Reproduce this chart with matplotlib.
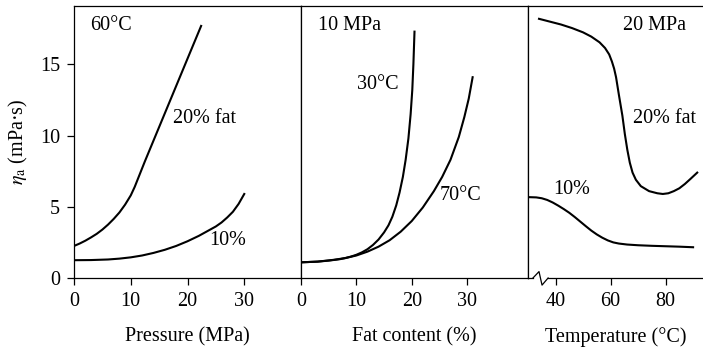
import matplotlib
matplotlib.use("Agg")
import matplotlib.pyplot as plt

plt.rcParams['font.family'] = ['Liberation Serif', 'DejaVu Serif']
plt.rcParams['mathtext.fontset'] = 'stix'

# Panel 1: viscosity vs pressure at 60 °C
p_fat20 = [0, 1, 2, 3, 4, 5, 6, 7, 8, 9, 10, 10.7, 11.5, 12.5, 15, 17.5, 20, 22.4]
v_fat20 = [2.25, 2.42, 2.62, 2.85, 3.1, 3.4, 3.75, 4.15, 4.6, 5.15, 5.8, 6.4, 7.2, 8.2, 10.6, 13.0, 15.4, 17.7]
p_fat10 = [0, 3, 6, 8, 10, 12, 14, 16, 18, 20, 22, 24, 25, 26, 27, 28, 29, 30]
v_fat10 = [1.25, 1.26, 1.3, 1.36, 1.45, 1.58, 1.76, 1.98, 2.25, 2.58, 2.96, 3.4, 3.62, 3.9, 4.25, 4.65, 5.2, 5.9]

# Panel 2: viscosity vs fat content at 10 MPa
f_30 = [0, 3, 5, 7, 8, 9, 10, 11, 12, 13, 14, 15, 15.8, 16.5, 17.2, 17.8, 18.4, 18.9, 19.4, 19.8, 20.1, 20.3, 20.5]
v_30 = [1.1, 1.15, 1.22, 1.32, 1.4, 1.5, 1.63, 1.8, 2.02, 2.32, 2.7, 3.2, 3.7, 4.3, 5.1, 6.0, 7.1, 8.3, 9.8, 11.5, 13.2, 15.0, 17.3]
f_70 = [0, 3, 6, 8, 10, 12, 14, 16, 18, 20, 22, 24, 25.5, 27, 28.5, 29.5, 30.3, 31]
v_70 = [1.1, 1.15, 1.28, 1.4, 1.58, 1.85, 2.2, 2.65, 3.25, 4.0, 4.95, 6.1, 7.1, 8.3, 9.9, 11.3, 12.6, 14.1]

# Panel 3: viscosity vs temperature at 20 MPa
t_fat20 = [34, 38, 42, 46, 50, 53, 56, 58, 59.5, 60.5, 61.3, 62, 63, 64.3, 65.2, 66.1, 67, 68, 69.2, 71, 74, 77, 79, 81, 83, 85, 87, 89, 91.5]
v_t20 = [18.2, 18.0, 17.8, 17.55, 17.25, 16.95, 16.55, 16.15, 15.7, 15.2, 14.7, 14.1, 12.9, 11.4, 10.1, 9.0, 8.1, 7.4, 6.9, 6.45, 6.1, 5.95, 5.9, 5.95, 6.1, 6.3, 6.6, 6.95, 7.4]
t_fat10 = [30, 33, 35, 37, 39, 41, 43, 45, 47, 49, 51, 53, 55, 57, 59, 61, 63, 66, 70, 75, 80, 85, 90]
v_t10 = [5.68, 5.66, 5.6, 5.48, 5.3, 5.08, 4.84, 4.58, 4.28, 3.96, 3.64, 3.33, 3.06, 2.83, 2.64, 2.5, 2.42, 2.35, 2.3, 2.26, 2.23, 2.2, 2.16]

ticks_p = [0, 10, 20, 30]
ticks_f = [0, 10, 20, 30]
ticks_t = [40, 60, 80]
ticks_y = [0, 5, 10, 15]

FS = 14.5
LW = 1.5
W, H = 703, 347
fig = plt.figure(figsize=(W / 100, H / 100), dpi=100)

bottom = (H - 278) / H
height = (278 - 6) / H
ax1 = fig.add_axes([74 / W, bottom, 227 / W, height])
ax2 = fig.add_axes([301 / W, bottom, 227 / W, height])
ax3 = fig.add_axes([528 / W, bottom, 175 / W, height])

ymax = 19.1
for ax in (ax1, ax2, ax3):
    ax.set_ylim(0, ymax)
    for s in ax.spines.values():
        s.set_linewidth(0.9)
    ax.tick_params(direction='out', length=5, width=0.9, labelsize=FS, pad=5)

ax1.set_xlim(0, 40)
ax2.set_xlim(0, 41)
ax3.set_xlim(30, 93.6)

ax1.plot(p_fat20, v_fat20, color='black', lw=LW)
ax1.plot(p_fat10, v_fat10, color='black', lw=LW)
ax1.set_xticks(ticks_p)
ax1.set_yticks(ticks_y)
ax1.set_xlabel('Pressure (MPa)', fontsize=FS, labelpad=12)
ax1.set_ylabel(r'$\eta_{\mathrm{a}}$ (mPa·s)', fontsize=FS, labelpad=7)
ax1.text(2.8, 17.7, '60°C', fontsize=FS, va='center', ha='left')
ax1.text(17.5, 11.2, '20% fat', fontsize=FS, va='center', ha='left')
ax1.text(23.8, 2.6, '10%', fontsize=FS, va='center', ha='left')

ax2.plot(f_30, v_30, color='black', lw=LW)
ax2.plot(f_70, v_70, color='black', lw=LW)
ax2.set_xticks(ticks_f)
ax2.set_yticks([])
ax2.set_xlabel('Fat content (%)', fontsize=FS, labelpad=12)
ax2.text(3.1, 17.7, '10 MPa', fontsize=FS, va='center', ha='left')
ax2.text(10.1, 13.6, '30°C', fontsize=FS, va='center', ha='left')
ax2.text(25.1, 5.8, '70°C', fontsize=FS, va='center', ha='left')

ax3.plot(t_fat20, v_t20, color='black', lw=LW)
ax3.plot(t_fat10, v_t10, color='black', lw=LW)
ax3.set_xticks(ticks_t)
ax3.set_yticks([])
ax3.set_xlabel('Temperature (°C)', fontsize=FS, labelpad=12)
ax3.spines['right'].set_visible(False)
ax3.spines['bottom'].set_visible(False)
ax3.text(64.5, 17.7, '20 MPa', fontsize=FS, va='center', ha='left')
ax3.text(68.2, 11.2, '20% fat', fontsize=FS, va='center', ha='left')
ax3.text(39.1, 6.2, '10%', fontsize=FS, va='center', ha='left')

# axis break on the temperature axis
ax3.plot([30, 31.8], [0, 0], color='black', lw=0.9, clip_on=False)
ax3.plot([31.8, 34.0, 35.1, 37.3], [0, 0.45, -0.5, 0], color='black', lw=0.9, clip_on=False)
ax3.plot([37.3, 93.6], [0, 0], color='black', lw=0.9, clip_on=False)

fig.savefig('out.png', dpi=100)
